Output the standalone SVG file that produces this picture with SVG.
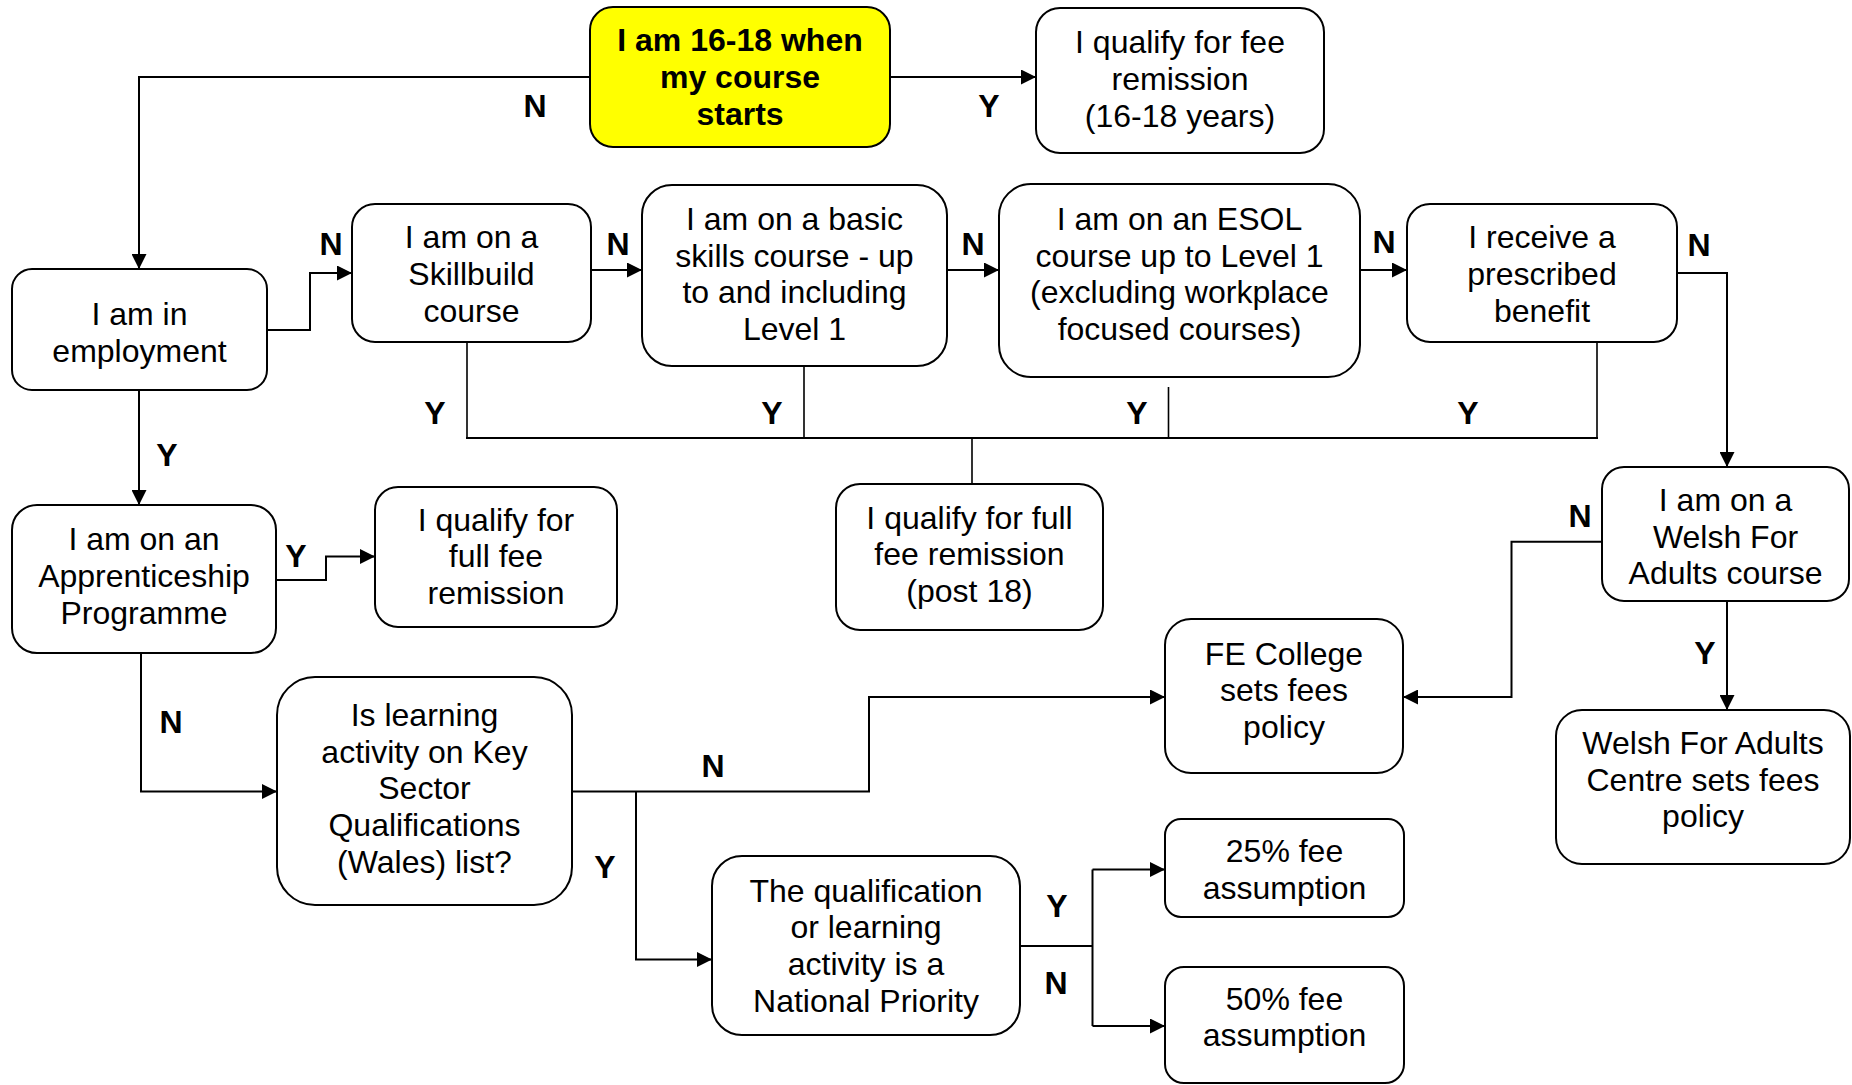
<svg xmlns="http://www.w3.org/2000/svg" width="1852" height="1085" viewBox="0 0 1852 1085">
<style>
.box{fill:#fff;stroke:#000;stroke-width:2}
.yel{fill:#ffff00;stroke:#000;stroke-width:2}
text{font-family:"Liberation Sans",Arial,sans-serif;font-size:32px;text-anchor:middle;fill:#000}
.b{font-weight:bold}
.c{fill:none;stroke:#000;stroke-width:2}
.t{fill:none;stroke:#000;stroke-width:1.6}
</style>
<defs>
<marker id="ah" markerUnits="userSpaceOnUse" markerWidth="15" markerHeight="15" refX="15" refY="7.5" orient="auto">
<path d="M0,0 L15,7.5 L0,15 z" fill="#000"/>
</marker>
</defs>
<rect width="1852" height="1085" fill="#fff"/>
<g id="connectors">
<path class="c" d="M590,77 H139 V269" marker-end="url(#ah)"/>
<path class="c" d="M890,77 H1036" marker-end="url(#ah)"/>
<path class="c" d="M267,330 H310 V273 H352" marker-end="url(#ah)"/>
<path class="c" d="M591,270 H642" marker-end="url(#ah)"/>
<path class="c" d="M947,270 H999" marker-end="url(#ah)"/>
<path class="c" d="M1360,270 H1407" marker-end="url(#ah)"/>
<path class="c" d="M1677,273 H1727 V467" marker-end="url(#ah)"/>
<path class="t" d="M467,342 V438 M804,366 V438 M1168.5,387 V438 M1597,342 V438 M972,438 V484"/>
<path class="c" d="M466,438 H1598"/>
<path class="c" d="M139,390 V505" marker-end="url(#ah)"/>
<path class="c" d="M276,580 H326 V556.5 H375" marker-end="url(#ah)"/>
<path class="c" d="M141,653 V791.5 H277" marker-end="url(#ah)"/>
<path class="c" d="M572,791.5 H869 V697 H1165" marker-end="url(#ah)"/>
<path class="c" d="M636,791.5 V959.5 H712" marker-end="url(#ah)"/>
<path class="c" d="M1020,946 H1092.5"/>
<path class="c" d="M1092.5,869.5 V1026"/>
<path class="c" d="M1092.5,869.5 H1165" marker-end="url(#ah)"/>
<path class="c" d="M1092.5,1026 H1165" marker-end="url(#ah)"/>
<path class="c" d="M1602,541.7 H1511.5 V697 H1403" marker-end="url(#ah)"/>
<path class="c" d="M1727,601 V710" marker-end="url(#ah)"/>
<g class="b">
<text x="535" y="117">N</text>
<text x="989" y="117">Y</text>
<text x="331" y="255">N</text>
<text x="618" y="255">N</text>
<text x="973" y="255">N</text>
<text x="1384" y="253">N</text>
<text x="1699" y="256">N</text>
<text x="435" y="424">Y</text>
<text x="772" y="424">Y</text>
<text x="1137" y="424">Y</text>
<text x="1468" y="424">Y</text>
<text x="167" y="466">Y</text>
<text x="296" y="567">Y</text>
<text x="171" y="733">N</text>
<text x="713" y="777">N</text>
<text x="605" y="878">Y</text>
<text x="1057" y="917">Y</text>
<text x="1056" y="994">N</text>
<text x="1580" y="527">N</text>
<text x="1705" y="664">Y</text>
</g>
</g>
<g id="n_age">
<rect class="yel" x="590" y="7" width="300" height="140" rx="23"/>
<text class="b" x="740" y="51">I am 16-18 when</text>
<text class="b" x="740" y="88">my course</text>
<text class="b" x="740" y="125">starts</text>
</g>
<g id="n_fee1618">
<rect class="box" x="1036" y="8" width="288" height="145" rx="24"/>
<text x="1180" y="53">I qualify for fee</text>
<text x="1180" y="90">remission</text>
<text x="1180" y="127">(16-18 years)</text>
</g>
<g id="n_employment">
<rect class="box" x="12" y="269" width="255" height="121" rx="20"/>
<text x="139.5" y="325">I am in</text>
<text x="139.5" y="362">employment</text>
</g>
<g id="n_skillbuild">
<rect class="box" x="352" y="204" width="239" height="138" rx="23"/>
<text x="471.5" y="248">I am on a</text>
<text x="471.5" y="285">Skillbuild</text>
<text x="471.5" y="322">course</text>
</g>
<g id="n_basic">
<rect class="box" x="642" y="185" width="305" height="181" rx="30"/>
<text x="794.5" y="230">I am on a basic</text>
<text x="794.5" y="267">skills course - up</text>
<text x="794.5" y="303">to and including</text>
<text x="794.5" y="340">Level 1</text>
</g>
<g id="n_esol">
<rect class="box" x="999" y="184" width="361" height="193" rx="32"/>
<text x="1179.5" y="230">I am on an ESOL</text>
<text x="1179.5" y="267">course up to Level 1</text>
<text x="1179.5" y="303">(excluding workplace</text>
<text x="1179.5" y="340">focused courses)</text>
</g>
<g id="n_benefit">
<rect class="box" x="1407" y="204" width="270" height="138" rx="23"/>
<text x="1542" y="248">I receive a</text>
<text x="1542" y="285">prescribed</text>
<text x="1542" y="322">benefit</text>
</g>
<g id="n_apprentice">
<rect class="box" x="12" y="505" width="264" height="148" rx="25"/>
<text x="144" y="550">I am on an</text>
<text x="144" y="587">Apprenticeship</text>
<text x="144" y="624">Programme</text>
</g>
<g id="n_fullfee">
<rect class="box" x="375" y="487" width="242" height="140" rx="23"/>
<text x="496" y="531">I qualify for</text>
<text x="496" y="567">full fee</text>
<text x="496" y="604">remission</text>
</g>
<g id="n_post18">
<rect class="box" x="836" y="484" width="267" height="146" rx="24"/>
<text x="969.5" y="529">I qualify for full</text>
<text x="969.5" y="565">fee remission</text>
<text x="969.5" y="602">(post 18)</text>
</g>
<g id="n_keysector">
<rect class="box" x="277" y="677" width="295" height="228" rx="38"/>
<text x="424.5" y="726">Is learning</text>
<text x="424.5" y="763">activity on Key</text>
<text x="424.5" y="799">Sector</text>
<text x="424.5" y="836">Qualifications</text>
<text x="424.5" y="873">(Wales) list?</text>
</g>
<g id="n_national">
<rect class="box" x="712" y="856" width="308" height="179" rx="30"/>
<text x="866" y="902">The qualification</text>
<text x="866" y="938">or learning</text>
<text x="866" y="975">activity is a</text>
<text x="866" y="1012">National Priority</text>
</g>
<g id="n_fecollege">
<rect class="box" x="1165" y="619" width="238" height="154" rx="26"/>
<text x="1284" y="665">FE College</text>
<text x="1284" y="701">sets fees</text>
<text x="1284" y="738">policy</text>
</g>
<g id="n_25">
<rect class="box" x="1165" y="819" width="239" height="98" rx="16"/>
<text x="1284.5" y="862">25% fee</text>
<text x="1284.5" y="899">assumption</text>
</g>
<g id="n_50">
<rect class="box" x="1165" y="967" width="239" height="116" rx="19"/>
<text x="1284.5" y="1010">50% fee</text>
<text x="1284.5" y="1046">assumption</text>
</g>
<g id="n_welsh">
<rect class="box" x="1602" y="467" width="247" height="134" rx="22"/>
<text x="1725.5" y="511">I am on a</text>
<text x="1725.5" y="548">Welsh For</text>
<text x="1725.5" y="584">Adults course</text>
</g>
<g id="n_welshcentre">
<rect class="box" x="1556" y="710" width="294" height="154" rx="26"/>
<text x="1703" y="754">Welsh For Adults</text>
<text x="1703" y="791">Centre sets fees</text>
<text x="1703" y="827">policy</text>
</g>
</svg>
